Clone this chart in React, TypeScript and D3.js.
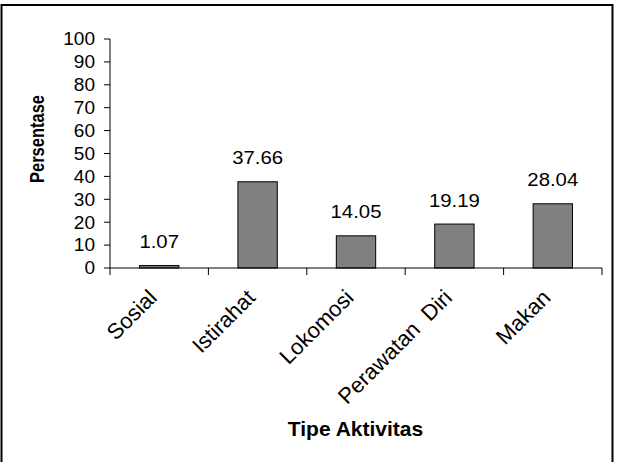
import React from "react";
import * as d3 from "d3";

const categories = ["Sosial", "Istirahat", "Lokomosi", "Perawatan  Diri", "Makan"];
const values = [1.07, 37.66, 14.05, 19.19, 28.04];
const valueLabels = ["1.07", "37.66", "14.05", "19.19", "28.04"];
const yTicks = [0, 10, 20, 30, 40, 50, 60, 70, 80, 90, 100];
const xTitle = "Tipe Aktivitas";
const yTitle = "Persentase";

const W = 618;
const H = 462;
const FONT = "'Liberation Sans', Arial, Helvetica, sans-serif";

export default function App() {
  const x0 = 110;
  const x1 = 602;
  const x = d3.scaleBand<string>().domain(categories).range([x0, x1]).paddingInner(0.6).paddingOuter(0.3);
  const y = d3.scaleLinear().domain([0, 100]).range([268, 39]);
  const step = x.step();
  const bounds = d3.range(categories.length + 1).map((i) => x0 + i * step);

  return (
    <svg width={W} height={H} style={{ position: "absolute", left: 0, top: 0, background: "#fff" }}>
      <rect x={0} y={0} width={W} height={H} fill="#fff" />
      <g fontFamily={FONT} fill="#000">
        <rect x={1.5} y={5} width={611} height={462} fill="none" stroke="#000" strokeWidth={2} />
        {/* y axis */}
        <line x1={x0} x2={x0} y1={y(100)} y2={y(0)} stroke="#000" strokeWidth={1} />
        {yTicks.map((t) => (
          <g key={t}>
            <line x1={x0 - 6} x2={x0} y1={y(t)} y2={y(t)} stroke="#000" strokeWidth={1} />
            <text
              transform={`translate(95,${y(t)}) scale(1.09,1)`}
              dy="0.36em"
              textAnchor="end"
              fontSize={17.5}
            >
              {t}
            </text>
          </g>
        ))}
        {/* bars */}
        {categories.map((c, i) => (
          <rect
            key={c}
            x={x(c)}
            y={y(values[i])}
            width={x.bandwidth()}
            height={y(0) - y(values[i])}
            fill="#808080"
            stroke="#000"
            strokeWidth={1}
          />
        ))}
        {/* x axis */}
        <line x1={x0} x2={x1} y1={y(0)} y2={y(0)} stroke="#000" strokeWidth={1} />
        {bounds.map((b, i) => (
          <line key={i} x1={b} x2={b} y1={y(0)} y2={y(0) + 7} stroke="#000" strokeWidth={1} />
        ))}
        {/* value labels */}
        {categories.map((c, i) => (
          <text
            key={c}
            transform={`translate(${(x(c) as number) + x.bandwidth() / 2},${y(values[i]) - 17.5}) scale(1.1,1)`}
            textAnchor="middle"
            fontSize={18.5}
          >
            {valueLabels[i]}
          </text>
        ))}
        {/* category labels */}
        {categories.map((c) => {
          const cx = (x(c) as number) + x.bandwidth() / 2 - 1;
          const cy = 299;
          return (
            <text
              key={c}
              transform={`translate(${cx},${cy}) rotate(-45)`}
              textAnchor="end"
              fontSize={22}
              style={{ whiteSpace: "pre" }}
            >
              {c}
            </text>
          );
        })}
        {/* titles */}
        <text x={355.5} y={436} textAnchor="middle" fontSize={21} fontWeight="bold">
          {xTitle}
        </text>
        <text
          transform={`translate(44,139) scale(1.2,1) rotate(-90)`}
          textAnchor="middle"
          fontSize={16.5}
          fontWeight="bold"
        >
          {yTitle}
        </text>
      </g>
    </svg>
  );
}
